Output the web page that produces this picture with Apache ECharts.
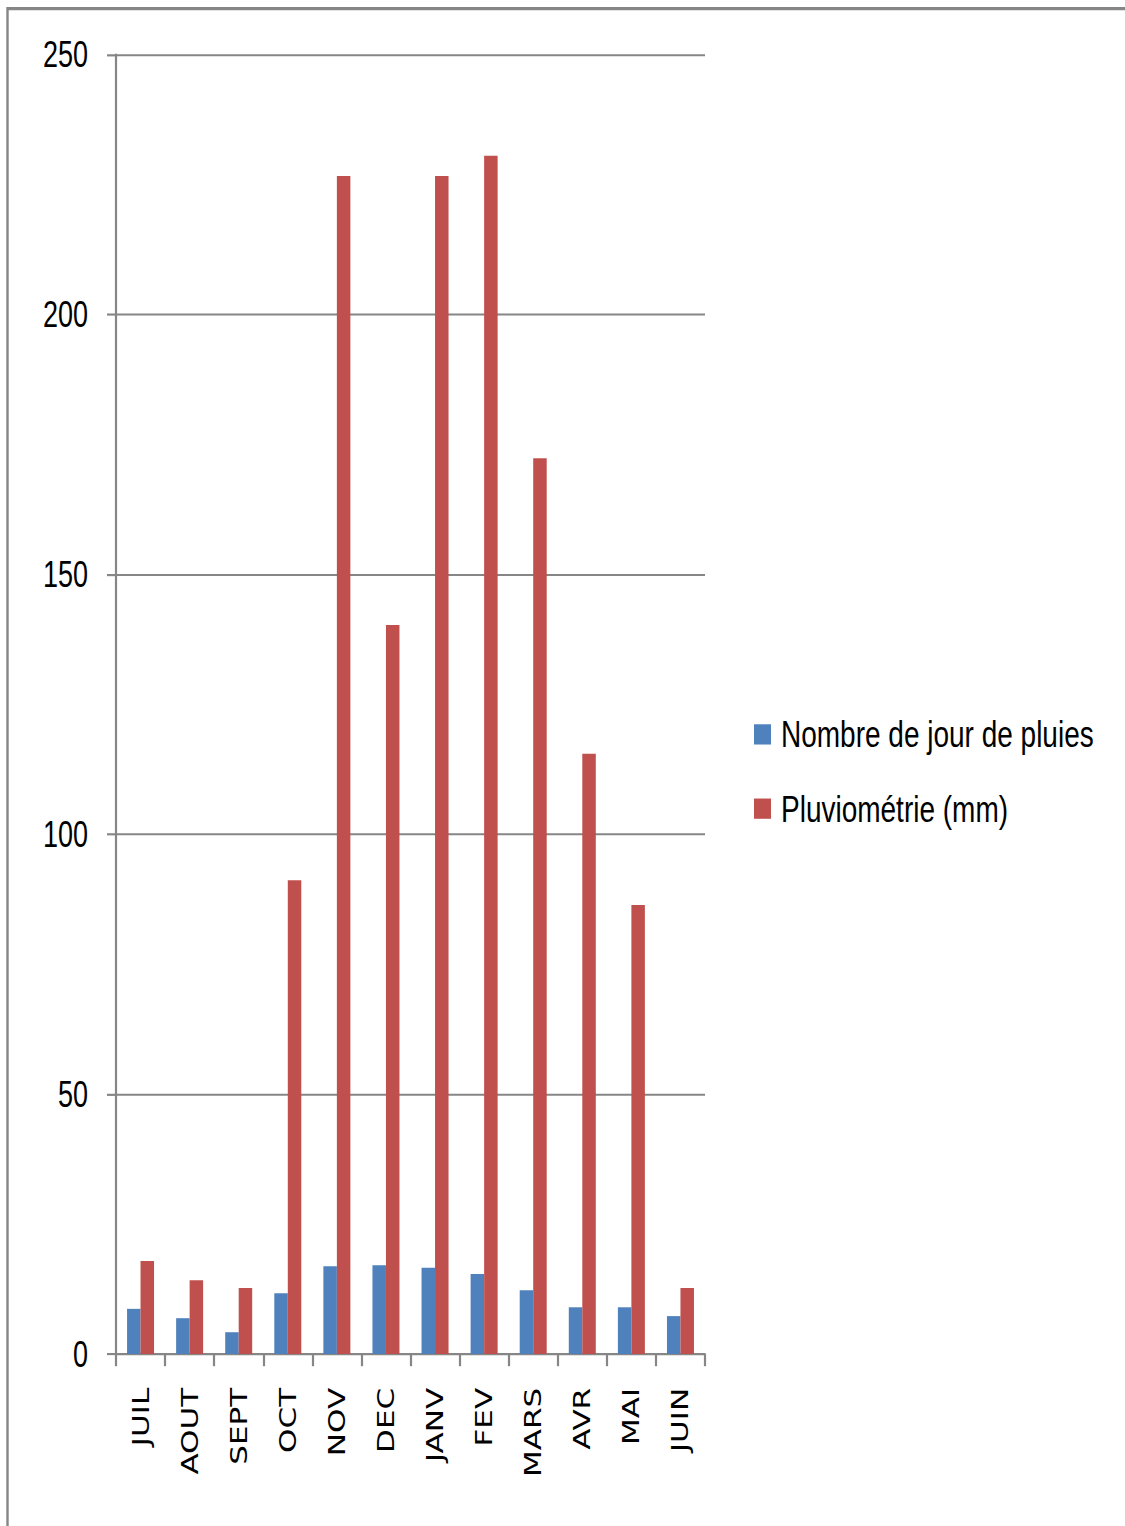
<!DOCTYPE html>
<html>
<head>
<meta charset="utf-8">
<title>Pluviométrie</title>
<script src="https://cdn.jsdelivr.net/npm/echarts@6/dist/echarts.min.js"></script>
<style>
  html, body { margin: 0; padding: 0; background: #ffffff; }
  #page { width: 1125px; height: 1526px; position: relative; overflow: hidden; }
  /* The chart is laid out at a shorter height and stretched vertically */
  #chart {
    position: absolute;
    left: 0;
    top: 0;
    width: 1125px;
    height: 1131px;
    transform: scaleY(1.35);
    transform-origin: 0 0;
  }
</style>
</head>
<body>
<div id="page"><div id="chart"></div></div>
<script>
// Months (July to June)
const months = ['JUIL', 'AOUT', 'SEPT', 'OCT', 'NOV', 'DEC', 'JANV', 'FEV', 'MARS', 'AVR', 'MAI', 'JUIN'];

// Number of rainy days per month
const rainDays = [8.7, 6.9, 4.2, 11.7, 16.9, 17.1, 16.6, 15.4, 12.3, 9.0, 9.0, 7.3];

// Monthly rainfall (mm)
const rainfall = [17.9, 14.2, 12.7, 91.2, 226.7, 140.3, 226.7, 230.6, 172.4, 115.5, 86.4, 12.7];

// Value axis ticks
const yTicks = [0, 50, 100, 150, 200, 250];

const seriesNames = ['Nombre de jour de pluies', 'Pluviométrie (mm)'];
const seriesColors = ['#4F81BD', '#C0504D'];

const axisGray = '#868686';

const chart = echarts.init(document.getElementById('chart'), null, { renderer: 'svg' });

chart.setOption({
  backgroundColor: '#ffffff',
  animation: false,
  graphic: [{
    type: 'rect',
    shape: { x: 7.5, y: 6.3, width: 1300, height: 1300 },
    style: { fill: 'none', stroke: axisGray, lineWidth: 2.4 },
    silent: true
  }],
  legend: {
    orient: 'vertical',
    left: 754,
    top: 529,
    padding: 0,
    itemWidth: 17,
    itemHeight: 15,
    itemGap: 25,
    icon: 'rect',
    data: seriesNames,
    textStyle: {
      fontFamily: '"Liberation Sans", Arial, sans-serif',
      fontSize: 28,
      lineHeight: 30,
      padding: [0, 0, 0, 5],
      color: '#000000'
    }
  },
  grid: {
    left: 116,
    right: 420,
    top: 40.7,
    bottom: 128,
    containLabel: false
  },
  xAxis: {
    type: 'category',
    data: months,
    boundaryGap: true,
    axisLine: { show: true, lineStyle: { color: axisGray, width: 1.6 } },
    axisTick: { show: true, length: 9, alignWithLabel: false, lineStyle: { color: axisGray, width: 2.2 } },
    axisLabel: {
      interval: 0,
      rotate: 90,
      margin: 25,
      color: '#000000',
      fontFamily: '"DejaVu Sans", Verdana, sans-serif',
      fontSize: 23
    },
    splitLine: { show: false }
  },
  yAxis: {
    type: 'value',
    min: yTicks[0],
    max: yTicks[yTicks.length - 1],
    interval: yTicks[1] - yTicks[0],
    axisLine: { show: true, lineStyle: { color: axisGray, width: 2.2 } },
    axisTick: { show: true, length: 9, lineStyle: { color: axisGray, width: 1.6 } },
    axisLabel: {
      margin: 28,
      color: '#000000',
      fontFamily: '"Liberation Sans", Arial, sans-serif',
      fontSize: 27
    },
    splitLine: { show: true, lineStyle: { color: axisGray, width: 1.5 } }
  },
  series: [
    {
      name: seriesNames[0],
      type: 'bar',
      data: rainDays,
      itemStyle: { color: seriesColors[0] },
      barGap: '0%',
      barCategoryGap: '45%'
    },
    {
      name: seriesNames[1],
      type: 'bar',
      data: rainfall,
      itemStyle: { color: seriesColors[1] },
      barGap: '0%',
      barCategoryGap: '45%'
    }
  ]
});
</script>
</body>
</html>
